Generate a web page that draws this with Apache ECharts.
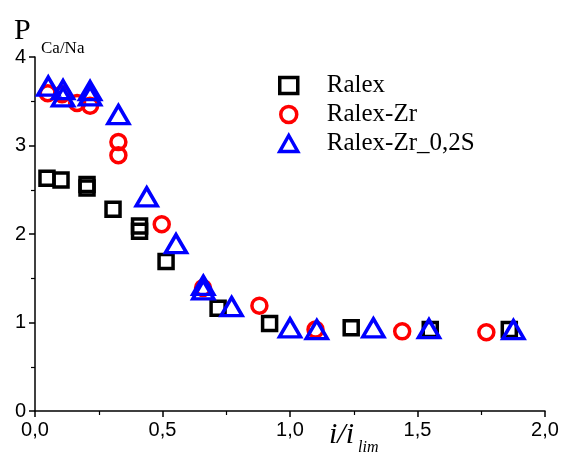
<!DOCTYPE html>
<html>
<head>
<meta charset="utf-8">
<script src="https://cdn.jsdelivr.net/npm/echarts@6/dist/echarts.min.js"></script>
<style>
  html, body { margin: 0; padding: 0; background: #fff; }
  #main { width: 563px; height: 457px; }
</style>
</head>
<body>
<div id="main"></div>
<script>
var ralex = [
  [0.047, 2.63], [0.102, 2.61], [0.204, 2.56], [0.204, 2.52], [0.306, 2.28],
  [0.41, 2.09], [0.41, 2.03], [0.514, 1.69], [0.718, 1.16], [0.92, 0.99],
  [1.24, 0.94], [1.55, 0.92], [1.86, 0.92]
];
var ralexZr = [
  [0.05, 3.59], [0.106, 3.58], [0.165, 3.48], [0.216, 3.45], [0.327, 3.04],
  [0.327, 2.89], [0.497, 2.11], [0.659, 1.39], [0.88, 1.19], [1.10, 0.92],
  [1.44, 0.90], [1.77, 0.89]
];
var ralexZrS = [
  [0.052, 3.67], [0.11, 3.63], [0.11, 3.55], [0.216, 3.62], [0.216, 3.56],
  [0.327, 3.35], [0.438, 2.42], [0.553, 1.89], [0.66, 1.42], [0.66, 1.37],
  [0.771, 1.18], [1.0, 0.94], [1.105, 0.92], [1.327, 0.94], [1.545, 0.93],
  [1.876, 0.92]
];
var seriesNames = ['Ralex', 'Ralex-Zr', 'Ralex-Zr_0,2S'];

var myChart = echarts.init(document.getElementById('main'));

function hollow(color, w) {
  return { color: 'rgba(255,255,255,0)', borderColor: color, borderWidth: w, opacity: 1 };
}

var option = {
  animation: false,
  grid: { left: 35, right: 18, top: 57, bottom: 46, containLabel: false },
  legend: {
    orient: 'vertical',
    left: 273,
    top: 68,
    itemWidth: 18,
    itemHeight: 16,
    itemGap: 4,
    itemStyle: { borderWidth: 3.5 },
    textStyle: { fontFamily: 'Liberation Serif', fontSize: 25, color: '#000', padding: [0, 0, 0, 24] },
    data: seriesNames
  },
  xAxis: {
    type: 'value',
    min: 0, max: 2, interval: 0.5,
    axisLine: { lineStyle: { color: '#000', width: 1.5 } },
    axisTick: { length: 6, lineStyle: { color: '#000', width: 1.5 } },
    minorTick: { show: true, splitNumber: 2, length: 4, lineStyle: { color: '#000', width: 1.2 } },
    splitLine: { show: false },
    axisLabel: {
      color: '#000', fontFamily: 'Liberation Sans', fontSize: 20, margin: 9,
      formatter: function (v) { return v.toFixed(1).replace('.', ','); }
    }
  },
  yAxis: {
    type: 'value',
    min: 0, max: 4, interval: 1,
    axisLine: { show: true, lineStyle: { color: '#000', width: 1.5 } },
    axisTick: { show: true, length: 6, lineStyle: { color: '#000', width: 1.5 } },
    minorTick: { show: true, splitNumber: 2, length: 4, lineStyle: { color: '#000', width: 1.2 } },
    splitLine: { show: false },
    axisLabel: { color: '#000', fontFamily: 'Liberation Sans', fontSize: 20, margin: 9 }
  },
  graphic: [
    { type: 'text', left: 14, top: 16, style: { text: 'P', font: '30px "Liberation Serif"', fill: '#000' } },
    { type: 'text', left: 41, top: 40, style: { text: 'Ca/Na', font: '17px "Liberation Serif"', fill: '#000' } },
    { type: 'text', left: 329, top: 420, style: { text: 'i/i', font: 'italic 30px "Liberation Serif"', fill: '#000' } },
    { type: 'text', left: 358, top: 440, style: { text: 'lim', font: 'italic 16px "Liberation Serif"', fill: '#000' } }
  ],
  series: [
    {
      name: seriesNames[0], type: 'scatter', symbol: 'rect', symbolSize: 14,
      itemStyle: hollow('#000', 3.5), data: ralex, z: 2
    },
    {
      name: seriesNames[1], type: 'scatter', symbol: 'circle', symbolSize: 15,
      itemStyle: hollow('#ff0000', 3.5), data: ralexZr, z: 3
    },
    {
      name: seriesNames[2], type: 'scatter', symbol: 'triangle', symbolSize: [21, 18],
      itemStyle: hollow('#0000ff', 3.5), data: ralexZrS, z: 4
    }
  ]
};
myChart.setOption(option);
</script>
</body>
</html>
